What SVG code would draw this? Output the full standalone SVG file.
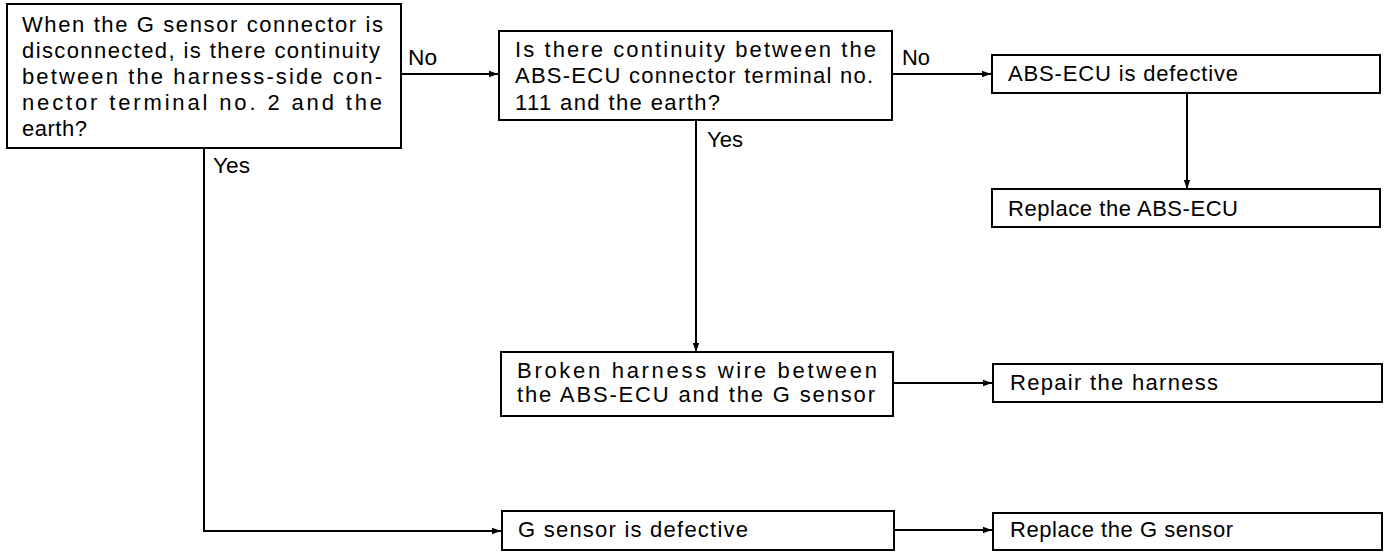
<svg xmlns="http://www.w3.org/2000/svg" width="1392" height="552" viewBox="0 0 1392 552">
<style>
.box{fill:#fff;stroke:#000;stroke-width:2}
.t{font-family:"Liberation Sans",Arial,sans-serif;font-size:22px;fill:#000}
.c{fill:none;stroke:#000;stroke-width:2}
</style>
<defs>
<marker id="ah" markerUnits="userSpaceOnUse" markerWidth="10" markerHeight="8" refX="9" refY="4" orient="auto">
<path d="M0,0.8 L9,4 L0,7.2 z" fill="#000"/>
</marker>
</defs>
<rect width="1392" height="552" fill="#fff"/>
<g id="connectors">
<line class="c" x1="401" y1="74" x2="498" y2="74" marker-end="url(#ah)"/>
<line class="c" x1="892" y1="74" x2="991" y2="74" marker-end="url(#ah)"/>
<line class="c" x1="1187" y1="93" x2="1187" y2="189" marker-end="url(#ah)"/>
<line class="c" x1="696" y1="120" x2="696" y2="352" marker-end="url(#ah)"/>
<line class="c" x1="893" y1="383" x2="992" y2="383" marker-end="url(#ah)"/>
<polyline class="c" points="204,148 204,531 501,531" marker-end="url(#ah)"/>
<line class="c" x1="894" y1="530" x2="992" y2="530" marker-end="url(#ah)"/>
<text class="t" x="408" y="65" textLength="29" lengthAdjust="spacingAndGlyphs">No</text>
<text class="t" x="902" y="65" textLength="28" lengthAdjust="spacingAndGlyphs">No</text>
<text class="t" x="213" y="173" textLength="37" lengthAdjust="spacingAndGlyphs">Yes</text>
<text class="t" x="707" y="147" textLength="36" lengthAdjust="spacingAndGlyphs">Yes</text>
</g>
<g id="q1">
<rect class="box" x="7" y="4" width="394" height="144"/>
<text class="t" x="22" y="32" textLength="361" lengthAdjust="spacing">When the G sensor connector is</text>
<text class="t" x="22" y="58" textLength="358" lengthAdjust="spacing">disconnected, is there continuity</text>
<text class="t" x="22" y="84" textLength="360" lengthAdjust="spacing">between the harness-side con-</text>
<text class="t" x="22" y="110" textLength="360" lengthAdjust="spacing">nector terminal no. 2 and the</text>
<text class="t" x="22" y="136" textLength="65" lengthAdjust="spacing">earth?</text>
</g>
<g id="q2">
<rect class="box" x="499" y="31" width="393" height="89"/>
<text class="t" x="515" y="57" textLength="361" lengthAdjust="spacing">Is there continuity between the</text>
<text class="t" x="515" y="83" textLength="358" lengthAdjust="spacing">ABS-ECU connector terminal no.</text>
<text class="t" x="515" y="110" textLength="205" lengthAdjust="spacing">111 and the earth?</text>
</g>
<g id="ecu-defective">
<rect class="box" x="992" y="55" width="388" height="38"/>
<text class="t" x="1008" y="81" textLength="230" lengthAdjust="spacing">ABS-ECU is defective</text>
</g>
<g id="replace-ecu">
<rect class="box" x="992" y="189" width="388" height="38"/>
<text class="t" x="1008" y="216" textLength="230" lengthAdjust="spacing">Replace the ABS-ECU</text>
</g>
<g id="broken-wire">
<rect class="box" x="501" y="352" width="392" height="64"/>
<text class="t" x="517" y="378" textLength="360" lengthAdjust="spacing">Broken harness wire between</text>
<text class="t" x="517" y="402" textLength="358" lengthAdjust="spacing">the ABS-ECU and the G sensor</text>
</g>
<g id="repair-harness">
<rect class="box" x="993" y="364" width="389" height="38"/>
<text class="t" x="1010" y="390" textLength="208" lengthAdjust="spacing">Repair the harness</text>
</g>
<g id="g-defective">
<rect class="box" x="502" y="511" width="392" height="39"/>
<text class="t" x="518" y="537" textLength="230" lengthAdjust="spacing">G sensor is defective</text>
</g>
<g id="replace-g">
<rect class="box" x="993" y="513" width="389" height="37"/>
<text class="t" x="1010" y="537" textLength="223" lengthAdjust="spacing">Replace the G sensor</text>
</g>
</svg>
